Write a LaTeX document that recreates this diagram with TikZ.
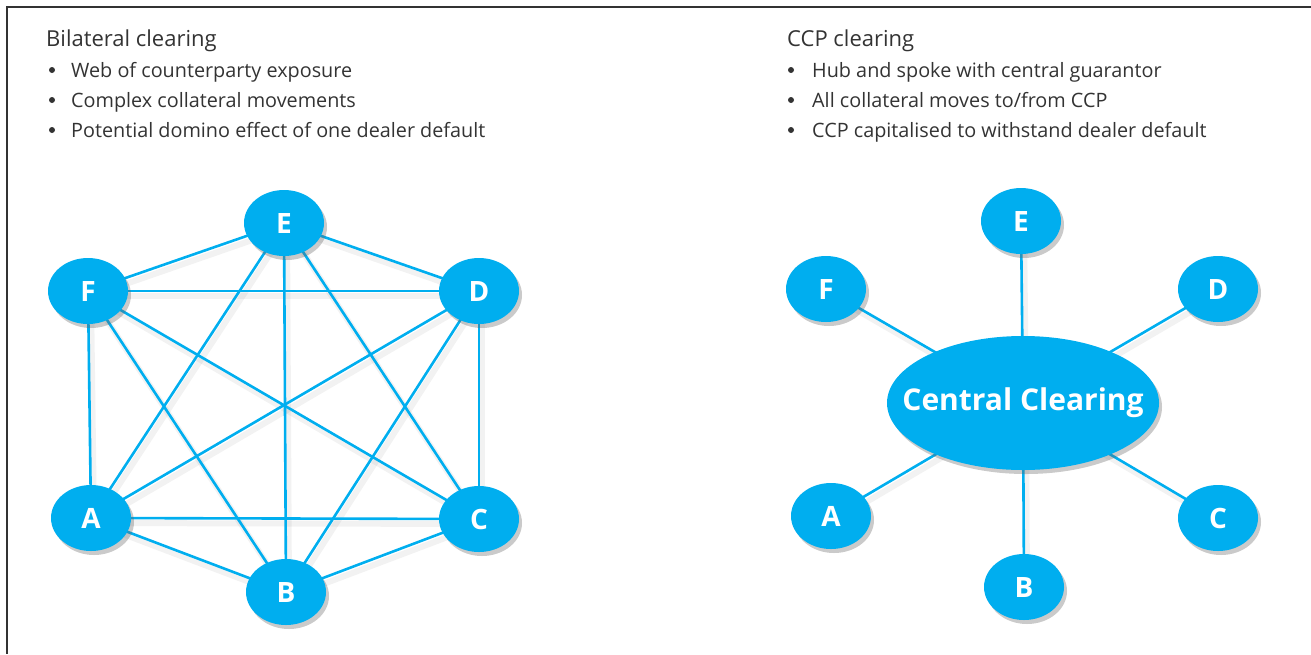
\documentclass[tikz,border=0pt]{standalone}
\usepackage{fontspec}
\setmainfont{Open Sans}
\usetikzlibrary{shapes.geometric,shadows}
\definecolor{ccpblue}{RGB}{0,174,239}
\definecolor{txtgray}{RGB}{51,51,51}
\tikzset{
  party/.style={ellipse, fill=ccpblue, draw=none, minimum width=80pt, minimum height=66pt, inner sep=0pt,
    text=white, font=\fontsize{28}{30}\selectfont\bfseries,
    drop shadow={shadow xshift=3pt, shadow yshift=-4pt, opacity=0.35, fill=black!60}},
  hub/.style={party, minimum width=272pt, minimum height=134pt},
  hubtext/.style={text=white, font=\fontsize{30}{34}\selectfont\bfseries, inner sep=0pt},
  link/.style={draw=ccpblue, line width=2.6pt},
  linkshadow/.style={draw=black, opacity=0.05, line width=6pt},
  title/.style={anchor=base west, text=txtgray, font=\fontsize{22}{26}\selectfont, inner sep=0pt},
  item/.style={anchor=base west, text=txtgray, font=\fontsize{19.8}{23}\selectfont, inner sep=0pt},
  dot/.style={circle, fill=txtgray, minimum size=6pt, inner sep=0pt},
  frame/.style={draw=txtgray, line width=1.3pt}
}
\begin{document}
\begin{tikzpicture}[x=1pt,y=-1pt]
\useasboundingbox (0,0) rectangle (1311,654);
\coordinate (fr1) at (1311,7);
\coordinate (fr2) at (7,7);
\coordinate (fr3) at (7,654);
\draw[frame] (fr1) -- (fr2) -- (fr3);

% texts left
\node[title] (t1) at (46,46) {Bilateral clearing};
\node[dot] (b1) at (52,70) {};
\node[item] (i1) at (71,77) {Web of counterparty exposure};
\node[dot] (b2) at (52,100) {};
\node[item] (i2) at (71,107) {Complex collateral movements};
\node[dot] (b3) at (52,130) {};
\node[item] (i3) at (71,137) {Potential domino effect of one dealer default};

% texts right
\node[title] (t2) at (787,46) {CCP clearing};
\node[dot] (b4) at (791,70) {};
\node[item] (i4) at (812,77) {Hub and spoke with central guarantor};
\node[dot] (b5) at (791,100) {};
\node[item] (i5) at (812,107) {All collateral moves to/from CCP};
\node[dot] (b6) at (791,130) {};
\node[item] (i6) at (812,137) {CCP capitalised to withstand dealer default};

% left coordinates
\coordinate (lE) at (284,223);
\coordinate (lF) at (88,291);
\coordinate (lD) at (479,291);
\coordinate (lC) at (479,519);
\coordinate (lB) at (286,592);
\coordinate (lA) at (91,518);

\foreach \a/\b in {E/F,E/D,E/A,E/B,E/C,F/D,F/A,F/B,F/C,D/A,D/B,D/C,A/C,A/B,B/C}{
  \draw[linkshadow] ([shift={(3,5)}]l\a) -- ([shift={(3,5)}]l\b);
}
\foreach \a/\b in {E/F,E/D,E/A,E/B,E/C,F/D,F/A,F/B,F/C,D/A,D/B,D/C,A/C,A/B,B/C}{
  \draw[link] (l\a) -- (l\b);
}
\node[party] (nE) at (lE) {E};
\node[party] (nF) at (lF) {F};
\node[party] (nD) at (lD) {D};
\node[party] (nC) at (lC) {C};
\node[party] (nB) at (lB) {B};
\node[party] (nA) at (lA) {A};

% right coordinates
\coordinate (rH) at (1023,403);
\coordinate (rE) at (1021,221);
\coordinate (rF) at (826,289);
\coordinate (rD) at (1218,289);
\coordinate (rC) at (1218,518);
\coordinate (rB) at (1024,587);
\coordinate (rA) at (831,516);
\foreach \a in {E,F,D,C,B,A}{
  \draw[linkshadow] ([shift={(3,5)}]rH) -- ([shift={(3,5)}]r\a);
}
\foreach \a in {E,F,D,C,B,A}{
  \draw[link] (rH) -- (r\a);
}
\node[party] (mE) at (rE) {E};
\node[party] (mF) at (rF) {F};
\node[party] (mD) at (rD) {D};
\node[party] (mC) at (rC) {C};
\node[party] (mB) at (rB) {B};
\node[party] (mA) at (rA) {A};
\node[hub] (hub) at (rH) {};
\node[hubtext] (hubt) at (rH) {Central Clearing};
\end{tikzpicture}
\end{document}
